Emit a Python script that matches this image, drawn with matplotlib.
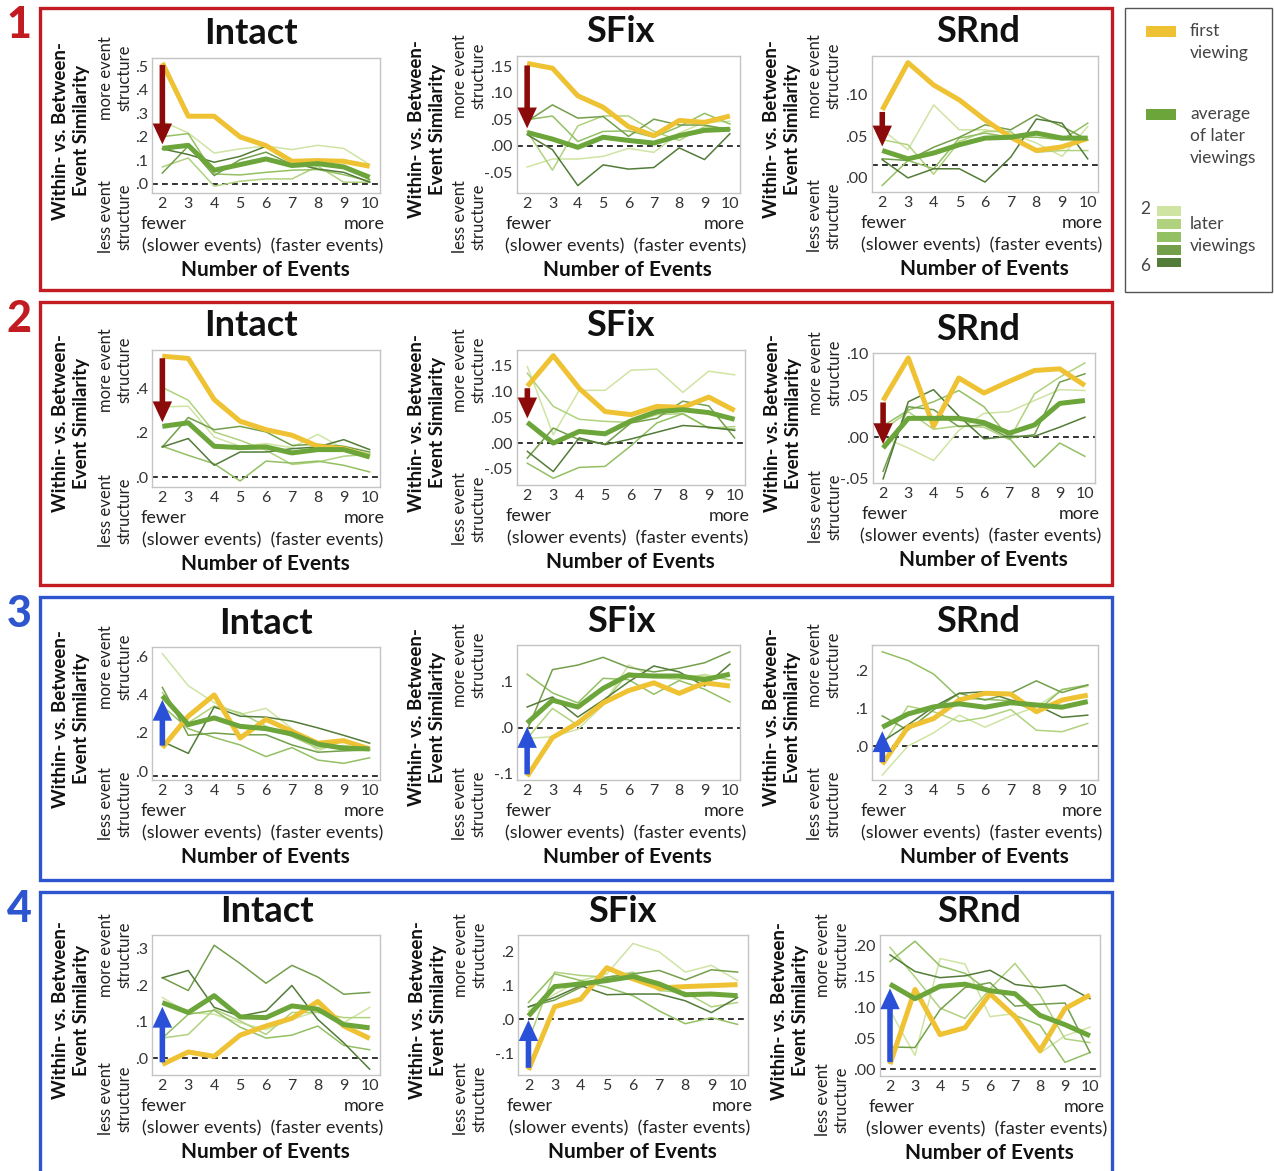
import matplotlib
matplotlib.use("Agg")
import matplotlib.pyplot as plt
from matplotlib.patches import Rectangle, FancyArrowPatch, ArrowStyle

W, H = 1274, 1171
plt.rcParams['font.family'] = ['Lato', 'DejaVu Sans']

n_events = [2, 3, 4, 5, 6, 7, 8, 9, 10]
conditions = ["Intact", "SFix", "SRnd"]
row_numbers = ["1", "2", "3", "4"]

# ---------------- Row 1 ----------------
r1_intact_first = [0.514, 0.287, 0.287, 0.199, 0.162, 0.095, 0.098, 0.095, 0.074]
r1_intact_avg = [0.150, 0.163, 0.057, 0.081, 0.105, 0.077, 0.085, 0.071, 0.027]
r1_intact_later = [
    [0.265, 0.216, 0.130, 0.148, 0.160, 0.145, 0.163, 0.150, 0.081],
    [0.071, 0.109, -0.011, 0.010, 0.020, 0.020, 0.074, 0.006, 0.006],
    [0.200, 0.213, 0.041, 0.037, 0.048, 0.057, 0.060, 0.038, 0.010],
    [0.045, 0.160, 0.034, 0.102, 0.134, 0.081, 0.081, 0.071, 0.017],
    [0.148, 0.124, 0.091, 0.116, 0.159, 0.088, 0.062, 0.048, 0.006],
]
r1_sfix_first = [0.155, 0.146, 0.094, 0.0725, 0.036, 0.019, 0.0475, 0.044, 0.056]
r1_sfix_avg = [0.025, 0.0125, -0.003, 0.016, 0.010, 0.005, 0.019, 0.029, 0.031]
r1_sfix_later = [
    [-0.040, -0.025, -0.025, -0.020, -0.005, -0.0125, 0.024, 0.044, 0.046],
    [0.027, -0.046, 0.0375, 0.056, 0.056, 0.027, 0.010, 0.036, 0.033],
    [0.049, 0.056, 0.008, 0.027, 0.028, 0.016, 0.036, 0.061, 0.041],
    [0.046, 0.077, 0.052, 0.055, 0.0175, 0.050, 0.039, 0.039, 0.030],
    [0.021, -0.0075, -0.075, -0.036, -0.044, -0.041, -0.004, -0.026, 0.0225],
]
r1_srnd_first = [0.082, 0.139, 0.112, 0.094, 0.070, 0.049, 0.033, 0.0375, 0.0476]
r1_srnd_avg = [0.033, 0.023, 0.030, 0.040, 0.048, 0.049, 0.054, 0.048, 0.048]
r1_srnd_later = [
    [0.058, 0.034, 0.088, 0.058, 0.058, 0.054, 0.042, 0.026, 0.062],
    [0.046, 0.040, 0.0045, 0.044, 0.056, 0.056, 0.031, 0.033, 0.033],
    [-0.009, 0.021, 0.011, 0.048, 0.054, 0.049, 0.049, 0.046, 0.066],
    [0.023, 0.021, 0.037, 0.049, 0.064, 0.058, 0.076, 0.062, 0.046],
    [0.022, 0.000, 0.011, 0.011, -0.005, 0.025, 0.071, 0.066, 0.023],
]
# ---------------- Row 2 ----------------
r2_intact_first = [0.546, 0.536, 0.350, 0.252, 0.214, 0.189, 0.139, 0.128, 0.091]
r2_intact_avg = [0.229, 0.245, 0.139, 0.133, 0.136, 0.109, 0.124, 0.124, 0.091]
r2_intact_later = [
    [0.317, 0.320, 0.181, 0.139, 0.151, 0.133, 0.193, 0.128, 0.106],
    [0.405, 0.347, 0.204, 0.166, 0.121, 0.057, 0.068, 0.094, 0.103],
    [0.139, 0.098, 0.060, -0.018, 0.072, 0.063, 0.072, 0.053, 0.023],
    [0.136, 0.269, 0.214, 0.229, 0.204, 0.143, 0.148, 0.139, 0.113],
    [0.136, 0.174, 0.053, 0.113, 0.113, 0.128, 0.136, 0.169, 0.124],
]
r2_sfix_first = [0.110, 0.169, 0.106, 0.061, 0.055, 0.071, 0.069, 0.089, 0.063]
r2_sfix_avg = [0.040, 0.000, 0.0226, 0.018, 0.043, 0.061, 0.0645, 0.059, 0.046]
r2_sfix_later = [
    [0.148, 0.016, 0.102, 0.102, 0.141, 0.143, 0.098, 0.139, 0.132],
    [0.135, 0.071, 0.046, 0.042, 0.040, 0.055, 0.057, 0.029, 0.032],
    [-0.039, -0.068, -0.047, -0.045, -0.005, 0.039, 0.057, 0.029, 0.027],
    [-0.029, 0.029, 0.0065, -0.002, 0.039, 0.048, 0.081, 0.072, 0.010],
    [-0.016, -0.055, 0.010, -0.003, 0.008, 0.021, 0.034, 0.031, 0.0245],
]
r2_srnd_first = [0.044, 0.095, 0.013, 0.071, 0.053, 0.067, 0.080, 0.082, 0.062]
r2_srnd_avg = [-0.013, 0.0226, 0.0226, 0.0226, 0.0175, 0.0048, 0.0147, 0.0405, 0.044]
r2_srnd_later = [
    [0.000, -0.013, -0.028, 0.008, 0.0286, 0.0306, 0.044, 0.057, 0.056],
    [0.0087, 0.0306, 0.0095, 0.0135, 0.012, -0.003, 0.052, 0.072, 0.089],
    [0.0135, 0.0325, 0.0425, 0.056, 0.0365, -0.001, -0.036, -0.007, -0.023],
    [-0.041, 0.0365, 0.033, 0.0127, 0.0147, -0.001, 0.003, 0.066, 0.076],
    [-0.050, 0.0425, 0.057, 0.0254, -0.002, 0.001, 0.001, 0.012, 0.024],
]
# ---------------- Row 3 ----------------
r3_intact_first = [0.123, 0.287, 0.398, 0.173, 0.270, 0.208, 0.146, 0.159, 0.116]
r3_intact_avg = [0.393, 0.243, 0.278, 0.234, 0.222, 0.194, 0.141, 0.120, 0.116]
r3_intact_later = [
    [0.613, 0.446, 0.358, 0.296, 0.328, 0.222, 0.106, 0.159, 0.120],
    [0.410, 0.252, 0.340, 0.305, 0.234, 0.181, 0.120, 0.134, 0.116],
    [0.340, 0.222, 0.176, 0.137, 0.076, 0.123, 0.058, 0.041, 0.070],
    [0.437, 0.187, 0.199, 0.190, 0.190, 0.137, 0.099, 0.106, 0.111],
    [0.155, 0.093, 0.335, 0.287, 0.282, 0.261, 0.226, 0.187, 0.146],
]
r3_sfix_first = [-0.107, -0.022, 0.010, 0.054, 0.081, 0.098, 0.075, 0.098, 0.091]
r3_sfix_avg = [0.010, 0.060, 0.045, 0.086, 0.115, 0.113, 0.113, 0.105, 0.117]
r3_sfix_later = [
    [-0.024, -0.020, -0.004, 0.049, 0.137, 0.110, 0.105, 0.117, 0.104],
    [-0.024, 0.042, 0.005, 0.053, 0.120, 0.111, 0.113, 0.113, 0.105],
    [0.117, 0.076, 0.054, 0.108, 0.105, 0.073, 0.103, 0.084, 0.056],
    [-0.006, 0.127, 0.137, 0.154, 0.132, 0.122, 0.130, 0.142, 0.166],
    [0.045, 0.067, 0.023, 0.060, 0.100, 0.135, 0.122, 0.091, 0.139],
]
r3_srnd_first = [-0.048, 0.050, 0.073, 0.122, 0.140, 0.138, 0.091, 0.122, 0.135]
r3_srnd_avg = [0.050, 0.085, 0.104, 0.112, 0.103, 0.115, 0.109, 0.103, 0.118]
r3_srnd_later = [
    [-0.077, 0.000, 0.035, 0.082, 0.050, 0.080, 0.104, 0.149, 0.158],
    [0.000, 0.106, 0.091, 0.065, 0.076, 0.097, 0.042, 0.038, 0.060],
    [0.250, 0.227, 0.191, 0.127, 0.124, 0.120, 0.091, 0.150, 0.162],
    [0.080, 0.042, 0.096, 0.140, 0.122, 0.140, 0.173, 0.142, 0.162],
    [0.012, 0.056, 0.104, 0.140, 0.144, 0.122, 0.109, 0.076, 0.082],
]
# ---------------- Row 4 ----------------
r4_intact_first = [-0.017, 0.017, 0.005, 0.063, 0.088, 0.109, 0.155, 0.088, 0.054]
r4_intact_avg = [0.152, 0.125, 0.171, 0.113, 0.111, 0.143, 0.134, 0.092, 0.083]
r4_intact_later = [
    [0.166, 0.125, 0.120, 0.097, 0.078, 0.106, 0.129, 0.097, 0.139],
    [0.055, 0.065, 0.134, 0.102, 0.065, 0.125, 0.125, 0.111, 0.111],
    [0.055, 0.120, 0.131, 0.085, 0.055, 0.063, 0.088, 0.035, 0.023],
    [0.220, 0.185, 0.309, 0.259, 0.205, 0.254, 0.222, 0.175, 0.180],
    [0.220, 0.240, 0.139, 0.115, 0.129, 0.199, 0.106, 0.042, -0.030],
]
r4_sfix_first = [-0.150, 0.037, 0.060, 0.153, 0.120, 0.093, 0.097, 0.100, 0.103]
r4_sfix_avg = [0.010, 0.097, 0.105, 0.115, 0.127, 0.105, 0.073, 0.075, 0.070]
r4_sfix_later = [
    [0.025, 0.075, 0.115, 0.135, 0.225, 0.200, 0.140, 0.160, 0.115],
    [-0.063, 0.140, 0.130, 0.125, 0.140, 0.085, 0.080, 0.037, 0.050],
    [0.050, 0.135, 0.115, 0.095, 0.070, 0.025, -0.013, 0.005, -0.015],
    [0.037, 0.057, 0.095, 0.125, 0.135, 0.145, 0.117, 0.147, 0.140],
    [0.037, 0.065, 0.100, 0.073, 0.075, 0.075, 0.055, 0.020, 0.065],
]
r4_srnd_first = [0.008, 0.129, 0.056, 0.067, 0.122, 0.085, 0.030, 0.098, 0.120]
r4_srnd_avg = [0.1375, 0.114, 0.134, 0.1375, 0.127, 0.122, 0.087, 0.072, 0.054]
r4_srnd_later = [
    [0.095, 0.022, 0.179, 0.170, 0.085, 0.090, 0.026, 0.054, 0.068],
    [0.197, 0.149, 0.099, 0.082, 0.130, 0.171, 0.120, 0.049, 0.043],
    [0.174, 0.207, 0.167, 0.155, 0.125, 0.087, 0.071, 0.011, 0.027],
    [0.036, 0.035, 0.096, 0.132, 0.140, 0.102, 0.105, 0.107, 0.027],
    [0.185, 0.158, 0.148, 0.151, 0.160, 0.137, 0.132, 0.136, 0.114],
]

# y ticks (values and labels) per panel
yticks_vals = [
    [[0, .1, .2, .3, .4, .5], [-.05, 0, .05, .10, .15], [0, .05, .10]],
    [[0, .2, .4], [-.05, 0, .05, .10, .15], [-.05, 0, .05, .10]],
    [[0, .2, .4, .6], [-.1, 0, .1], [0, .1, .2]],
    [[0, .1, .2, .3], [-.1, 0, .1, .2], [0, .05, .10, .15, .20]],
]
yticks_labels = [
    [[".0", ".1", ".2", ".3", ".4", ".5"], ["-.05", ".00", ".05", ".10", ".15"], [".00", ".05", ".10"]],
    [[".0", ".2", ".4"], ["-.05", ".00", ".05", ".10", ".15"], ["-.05", ".00", ".05", ".10"]],
    [[".0", ".2", ".4", ".6"], ["-.1", ".0", ".1"], [".0", ".1", ".2"]],
    [[".0", ".1", ".2", ".3"], ["-.1", ".0", ".1", ".2"], [".00", ".05", ".10", ".15", ".20"]],
]
# dashed reference line level per panel
ref_levels = [
    [0.0, 0.0, 0.016],
    [0.0, 0.0, 0.0],
    [-0.025, 0.0, 0.0],
    [0.0, 0.0, 0.0],
]

# ---------------- styling / layout ----------------
ylims = [
    [(-0.04, 0.535), (-0.089, 0.169), (-0.017, 0.147)],
    [(-0.045, 0.574), (-0.081, 0.18), (-0.055, 0.101)],
    [(-0.046, 0.648), (-0.115, 0.181), (-0.09, 0.268)],
    [(-0.046, 0.337), (-0.165, 0.25), (-0.011, 0.217)],
]
axes_boxes = [
    [(152, 58, 380, 193), (517, 56, 740, 193), (872, 56, 1098, 192)],
    [(152, 350, 380, 487), (517, 350, 745, 485), (873, 353, 1095, 483)],
    [(152, 647, 380, 780), (517, 645, 740, 780), (872, 645, 1098, 780)],
    [(152, 935, 380, 1075), (518, 935, 748, 1075), (880, 935, 1100, 1076)],
]
title_dx = [
    [-15, -8, -7],
    [-15, -11, -6],
    [0, -7, -7],
    [1, -11, -11],
]
row_boxes = [(40, 8, 1112, 290), (40, 302, 1112, 585), (40, 597, 1112, 880), (40, 892, 1112, 1180)]
RED = '#C21B22'
BLUE = '#2E55D0'
row_colors = [RED, RED, BLUE, BLUE]
arrow_colors = ['#8B0A0A', '#8B0A0A', '#2A50D8', '#2A50D8']
YELLOW = '#EEC232'
AVG = '#6CA53A'
LATER = ['#CFE4A3', '#B0D27F', '#93C063', '#739F4B', '#527C37']
TXT = '#222222'

data = {
    (0, 0): (r1_intact_first, r1_intact_avg, r1_intact_later),
    (0, 1): (r1_sfix_first, r1_sfix_avg, r1_sfix_later),
    (0, 2): (r1_srnd_first, r1_srnd_avg, r1_srnd_later),
    (1, 0): (r2_intact_first, r2_intact_avg, r2_intact_later),
    (1, 1): (r2_sfix_first, r2_sfix_avg, r2_sfix_later),
    (1, 2): (r2_srnd_first, r2_srnd_avg, r2_srnd_later),
    (2, 0): (r3_intact_first, r3_intact_avg, r3_intact_later),
    (2, 1): (r3_sfix_first, r3_sfix_avg, r3_sfix_later),
    (2, 2): (r3_srnd_first, r3_srnd_avg, r3_srnd_later),
    (3, 0): (r4_intact_first, r4_intact_avg, r4_intact_later),
    (3, 1): (r4_sfix_first, r4_sfix_avg, r4_sfix_later),
    (3, 2): (r4_srnd_first, r4_srnd_avg, r4_srnd_later),
}

fig = plt.figure(figsize=(W / 100, H / 100), dpi=100)


def fx(px):
    return px / W


def fy(py):
    return 1 - py / H


ylab_off = [81, 90, 90]
struct_off = [37, 48, 48]

for r in range(4):
    x0, y0, x1, y1 = row_boxes[r]
    fig.add_artist(Rectangle((fx(x0), fy(y1)), (x1 - x0) / W, (y1 - y0) / H,
                             transform=fig.transFigure, fill=False,
                             edgecolor=row_colors[r], lw=2.4))
    fig.text(fx(19), fy(y0 + 17), row_numbers[r], color=row_colors[r], fontsize=31,
             fontweight='black', ha='center', va='center')
    for c in range(3):
        L, T, R, B = axes_boxes[r][c]
        ax = fig.add_axes([fx(L), fy(B), (R - L) / W, (B - T) / H])
        first, avg, later = data[(r, c)]
        for i, series in enumerate(later):
            ax.plot(n_events, series, color=LATER[i], lw=1.1, zorder=2)
        ax.plot(n_events, first, color=YELLOW, lw=3.6, zorder=3, solid_capstyle='butt')
        ax.plot(n_events, avg, color=AVG, lw=3.6, zorder=4, solid_capstyle='butt')
        ax.axhline(ref_levels[r][c], color='#111111', lw=1.2, ls=(0, (3.5, 2.5)), zorder=1)
        lo, hi = ylims[r][c]
        ax.set_xlim(1.6, 10.4)
        ax.set_ylim(lo, hi)
        ax.set_xticks(n_events)
        ax.set_xticklabels([str(v) for v in n_events])
        ax.set_yticks(yticks_vals[r][c])
        ax.set_yticklabels(yticks_labels[r][c])
        ax.tick_params(length=0, labelsize=11.5, colors='#333333', pad=3)
        for s in ax.spines.values():
            s.set_color('#C4C4C4')
            s.set_linewidth(1.0)
        # arrow from first viewing to average of later viewings
        rng = hi - lo
        sgn = 1 if avg[0] > first[0] else -1
        ystart = first[0] + sgn * 0.015 * rng
        yend = avg[0] - sgn * 0.03 * rng
        arr = FancyArrowPatch((2, ystart), (2, yend),
                              arrowstyle=ArrowStyle('simple', head_length=15, head_width=14, tail_width=4),
                              mutation_scale=1, color=arrow_colors[r], lw=0, zorder=6,
                              shrinkA=0, shrinkB=0)
        ax.add_patch(arr)
        # texts
        cx = (L + R) / 2
        fig.text(fx(cx + title_dx[r][c]), fy(T - 24), conditions[c], fontsize=26, fontweight='bold',
                 ha='center', va='center', color='#111111')
        fig.text(fx(L - 11), fy(B + 31), "fewer", fontsize=13, ha='left', va='center', color=TXT)
        fig.text(fx(R + 5), fy(B + 31), "more", fontsize=13, ha='right', va='center', color=TXT)
        fig.text(fx(cx - 3), fy(B + 53), "(slower events)  (faster events)", fontsize=13,
                 ha='center', va='center', color=TXT)
        fig.text(fx(cx - 1), fy(B + 77), "Number of Events", fontsize=15, fontweight='bold',
                 ha='center', va='center', color='#111111')
        fig.text(fx(L - ylab_off[c]), fy((T + B) / 2 + 5), "Within- vs. Between-\nEvent Similarity",
                 fontsize=13.5, fontweight='bold', rotation=90, ha='center', va='center',
                 multialignment='center', linespacing=1.35, color='#111111')
        fig.text(fx(L - struct_off[c]), fy(T + 20), "more event\nstructure", fontsize=12,
                 rotation=90, ha='center', va='center', multialignment='center',
                 linespacing=1.15, color=TXT)
        fig.text(fx(L - struct_off[c]), fy(B + 24), "less event\nstructure", fontsize=12,
                 rotation=90, ha='center', va='center', multialignment='center',
                 linespacing=1.15, color=TXT)

# ---------------- legend ----------------
fig.add_artist(Rectangle((fx(1125), fy(292)), (1272 - 1125) / W, (292 - 8) / H,
                         transform=fig.transFigure, fill=False, edgecolor='#555555', lw=1.0))
fig.add_artist(Rectangle((fx(1146), fy(37)), 30 / W, 11 / H, transform=fig.transFigure,
                         facecolor=YELLOW, edgecolor='none'))
fig.text(fx(1190), fy(42), "first\nviewing", fontsize=12.5, ha='left', va='center',
         color='#444444', linespacing=1.5)
fig.add_artist(Rectangle((fx(1146), fy(120)), 30 / W, 11 / H, transform=fig.transFigure,
                         facecolor=AVG, edgecolor='none'))
fig.text(fx(1190), fy(136), "average\nof later\nviewings", fontsize=12.5, ha='left', va='center',
         color='#444444', linespacing=1.5)
for i, col in enumerate(LATER):
    yc = 211 + i * 13
    fig.add_artist(Rectangle((fx(1157), fy(yc + 4.5)), 24 / W, 9 / H, transform=fig.transFigure,
                             facecolor=col, edgecolor='none'))
fig.text(fx(1145), fy(209), "2", fontsize=12.5, ha='center', va='center', color='#444444')
fig.text(fx(1145), fy(266), "6", fontsize=12.5, ha='center', va='center', color='#444444')
fig.text(fx(1190), fy(235), "later\nviewings", fontsize=12.5, ha='left', va='center',
         color='#444444', linespacing=1.5)

fig.savefig("out.png", dpi=100)
